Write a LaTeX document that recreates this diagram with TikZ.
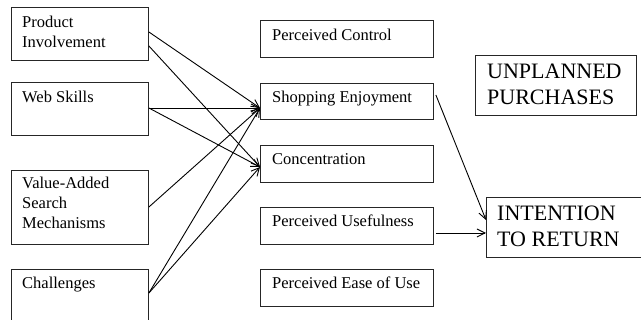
\documentclass[tikz,border=0pt]{standalone}
\usepackage{fontspec}
\setmainfont{Liberation Serif}
\usetikzlibrary{arrows.meta,calc}
\begin{document}
\begin{tikzpicture}[x=1pt,y=-1pt,
  box/.style={draw=black!85,line width=0.9pt,inner sep=0pt,anchor=north west},
  txt/.style={inner sep=0pt,anchor=north west,align=left,font=\fontsize{16.5}{20}\selectfont},
  bigtxt/.style={inner sep=0pt,anchor=north west,align=left,font=\fontsize{22}{26}\selectfont},
  arr/.style={line width=0.9pt,-{Straight Barb[length=8pt,width=8pt,line width=0.9pt]}}]
\useasboundingbox (0,0) rectangle (641,320);
% left boxes
\node[box,minimum width=137pt,minimum height=53pt] (pi) at (11,7) {};
\node[box,minimum width=137pt,minimum height=53pt] (ws) at (11,82) {};
\node[box,minimum width=137pt,minimum height=74pt] (va) at (11,170) {};
\node[box,minimum width=137pt,minimum height=70pt] (ch) at (11,269) {};
% middle boxes
\node[box,minimum width=173pt,minimum height=37pt] (pc) at (260,20) {};
\node[box,minimum width=173pt,minimum height=36pt] (se) at (260,83) {};
\node[box,minimum width=173pt,minimum height=37pt] (co) at (260,145) {};
\node[box,minimum width=173pt,minimum height=37pt] (pu) at (260,207) {};
\node[box,minimum width=173pt,minimum height=37pt] (pe) at (260,269) {};
% right boxes
\node[box,minimum width=161pt,minimum height=60pt] (up) at (475,55) {};
\node[box,minimum width=200pt,minimum height=60pt] (it) at (486,197) {};
% texts
\node[txt] (tpi) at (22,16) {Product\\Involvement};
\node[txt] (tws) at (22,91) {Web Skills};
\node[txt] (tva) at (22,177) {Value-Added\\Search\\Mechanisms};
\node[txt] (tch) at (22,277) {Challenges};
\node[txt] (tpc) at (272,29) {Perceived Control};
\node[txt] (tse) at (272,91) {Shopping Enjoyment};
\node[txt] (tco) at (272,153) {Concentration};
\node[txt] (tpu) at (272,215) {Perceived Usefulness};
\node[txt] (tpe) at (272,277) {Perceived Ease of Use};
\node[bigtxt] (tup) at (487,64) {UNPLANNED\\PURCHASES};
\node[bigtxt] (tit) at (497,206) {INTENTION\\TO RETURN};
% connector end points
\coordinate (pia) at ($(pi.north east)+(0,25)$);
\coordinate (pib) at ($(pi.north east)+(0,39)$);
\coordinate (wsa) at ($(ws.north east)+(0,26)$);
\coordinate (vaa) at ($(va.north east)+(0,37)$);
\coordinate (cha) at ($(ch.north east)+(0,24)$);
\coordinate (sein) at ($(se.north west)+(0,25)$);
\coordinate (coin) at ($(co.north west)+(0,22)$);
\coordinate (seout) at ($(se.north east)+(2,12)$);
\coordinate (puout) at ($(pu.north east)+(2,26)$);
\coordinate (itin1) at ($(it.north west)+(0,23)$);
\coordinate (itin2) at ($(it.north west)+(0,36)$);
% connectors
\draw[arr] (pia) -- (sein);
\draw[arr] (pib) -- (coin);
\draw[arr] (wsa) -- (sein);
\draw[arr] (wsa) -- (coin);
\draw[arr] (vaa) -- (sein);
\draw[arr] (cha) -- (sein);
\draw[arr] (cha) -- (coin);
\draw[arr] (seout) -- (itin1);
\draw[arr] (puout) -- (itin2);
\end{tikzpicture}
\end{document}
